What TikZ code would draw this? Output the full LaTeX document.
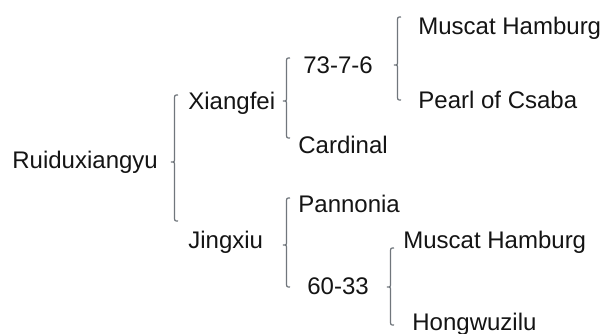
\documentclass[tikz,border=0pt]{standalone}
\usepackage{fontspec}
\setmainfont{Liberation Sans}
\definecolor{bracegray}{RGB}{112,118,124}
\begin{document}
\begin{tikzpicture}[x=0.5pt,y=-0.5pt,
  lbl/.style={anchor=base west,inner sep=0pt,font=\fontsize{12}{14}\selectfont,text=black!92},
  brc/.style={draw=bracegray,line width=0.6pt}]
\useasboundingbox[fill=white] (0,0) rectangle (605,333);
% brace: #1 right x, #2 top y, #3 mid y, #4 bottom y
\newcommand{\mybrace}[4]{%
  \draw[brc] (#1,#2) .. controls ({#1-3.5},#2) .. ({#1-3.5},{#2+5})
    -- ({#1-3.5},{#3-4}) .. controls ({#1-3.5},#3) .. ({#1-7},#3)
    .. controls ({#1-3.5},#3) .. ({#1-3.5},{#3+4})
    -- ({#1-3.5},{#4-5}) .. controls ({#1-3.5},#4) .. (#1,#4);}
\node[lbl] (r) at (12,168) {Ruiduxiangyu};
\node[lbl] (x) at (188,109) {Xiangfei};
\node[lbl] (j) at (188,248) {Jingxiu};
\node[lbl] (t) at (303,73) {73-7-6};
\node[lbl] (c) at (298,153) {Cardinal};
\node[lbl] (p) at (298,212) {Pannonia};
\node[lbl] (s) at (307,294) {60-33};
\node[lbl] (m1) at (418,34) {Muscat Hamburg};
\node[lbl] (pc) at (418,108) {Pearl of Csaba};
\node[lbl] (m2) at (403,248) {Muscat Hamburg};
\node[lbl] (h) at (412,330) {Hongwuzilu};
\mybrace{178}{95}{162}{221}
\mybrace{290}{58}{101}{138}
\mybrace{290}{198}{245}{287}
\mybrace{401}{17}{65}{100}
\mybrace{394}{248}{287}{325}
\end{tikzpicture}
\end{document}
